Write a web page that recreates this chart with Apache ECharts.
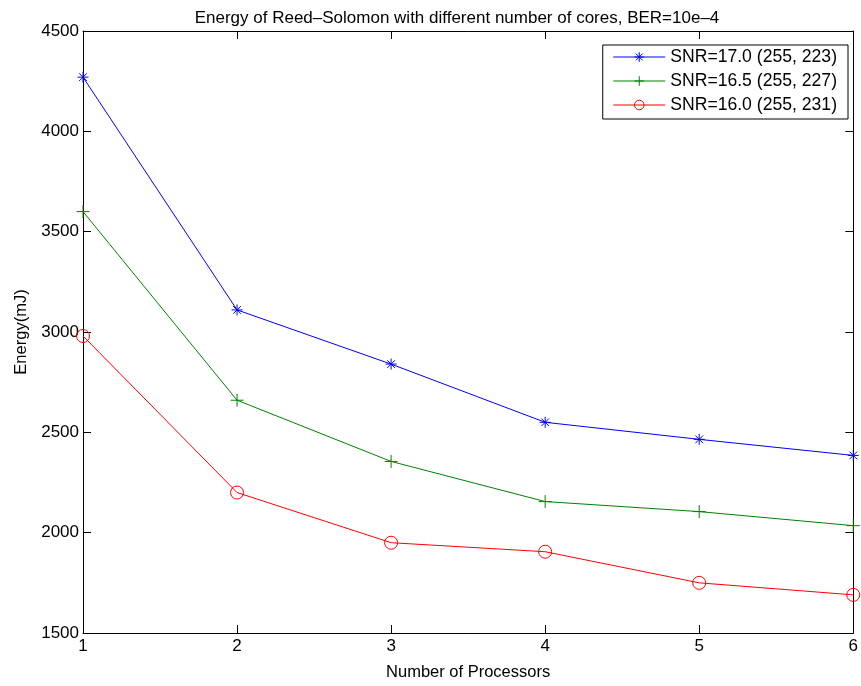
<!DOCTYPE html>
<html>
<head>
<meta charset="utf-8">
<script src="https://cdn.jsdelivr.net/npm/echarts@6/dist/echarts.min.js"></script>
<style>
  html, body { margin: 0; padding: 0; background: #fff; }
  #chart { width: 861px; height: 686px; }
</style>
</head>
<body>
<div id="chart"></div>
<script>
// Processor counts on the x axis
const processors = [1, 2, 3, 4, 5, 6];

// Energy in mJ per configuration
const snr170 = [4270, 3110, 2840, 2550, 2465, 2385];
const snr165 = [3600, 2660, 2355, 2155, 2105, 2035];
const snr160 = [2980, 2200, 1950, 1905, 1750, 1690];

const seriesNames = ['SNR=17.0 (255, 223)', 'SNR=16.5 (255, 227)', 'SNR=16.0 (255, 231)'];

const FONT = 'Liberation Sans, Arial, Helvetica, sans-serif';
// Stroke-only marker outlines
const starPath = 'path://M-1,0L1,0M0,-1L0,1M-0.7,-0.7L0.7,0.7M-0.7,0.7L0.7,-0.7';
const plusPath = 'path://M-1,0L1,0M0,-1L0,1';
const ringPath = 'path://M1,0A1,1,0,1,1,-1,0A1,1,0,1,1,1,0Z';

function pairs(ys) { return processors.map((x, i) => [x, ys[i]]); }

function lineSeries(name, ys, color, symbol, size) {
  return {
    name: name,
    type: 'line',
    data: pairs(ys),
    symbol: symbol,
    symbolSize: size,
    showSymbol: true,
    lineStyle: { color: color, width: 1 },
    itemStyle: { color: 'rgba(0,0,0,0)', borderColor: color, borderWidth: 1 },
    emphasis: { disabled: true },
    animation: false
  };
}

const axisLine = { show: true, onZero: false, lineStyle: { color: '#000', width: 1 } };
const tick = { show: true, inside: true, length: 8, lineStyle: { color: '#000' } };

const chart = echarts.init(document.getElementById('chart'));
chart.setOption({
  backgroundColor: '#fff',
  animation: false,
  title: {
    text: 'Energy of Reed\u2013Solomon with different number of cores, BER=10e\u20134',
    left: 452, textAlign: 'center', top: 5,
    textStyle: { fontFamily: FONT, fontSize: 17, fontWeight: 'normal', color: '#000' }
  },
  legend: {
    orient: 'vertical',
    right: 13, top: 45,
    padding: [3, 11, 5, 10],
    borderColor: '#000', borderWidth: 1,
    backgroundColor: '#fff',
    itemWidth: 52, itemHeight: 12, itemGap: 6, itemTextGap: 8,
    lineStyle: { width: 1 },
    itemStyle: { borderWidth: 1, color: 'rgba(0,0,0,0)' },
    textStyle: { fontFamily: FONT, fontSize: 17.6, color: '#000' },
    data: seriesNames
  },
  grid: { left: 83, right: 7, top: 31, bottom: 49, containLabel: false, show: false },
  xAxis: [{
    type: 'value', min: 1, max: 6, interval: 1,
    name: 'Number of Processors', nameLocation: 'middle', nameGap: 31,
    nameTextStyle: { fontFamily: FONT, fontSize: 16.5, color: '#000' },
    axisLine: axisLine, axisTick: tick,
    axisLabel: { fontFamily: FONT, fontSize: 17, color: '#000', margin: 5 },
    splitLine: { show: false }
  }, {
    type: 'value', min: 1, max: 6, interval: 1, position: 'top',
    axisLine: axisLine, axisTick: tick, axisLabel: { show: false }, splitLine: { show: false }
  }],
  yAxis: [{
    type: 'value', min: 1500, max: 4500, interval: 500,
    name: 'Energy(mJ)', nameLocation: 'middle', nameGap: 52, nameRotate: 90,
    nameTextStyle: { fontFamily: FONT, fontSize: 16.5, color: '#000' },
    axisLine: axisLine, axisTick: tick,
    axisLabel: { fontFamily: FONT, fontSize: 17, color: '#000', margin: 4, formatter: v => String(v) },
    splitLine: { show: false }
  }, {
    type: 'value', min: 1500, max: 4500, interval: 500, position: 'right',
    axisLine: axisLine, axisTick: tick, axisLabel: { show: false }, splitLine: { show: false }
  }],
  series: [
    lineSeries(seriesNames[0], snr170, '#0000ff', starPath, 11),
    lineSeries(seriesNames[1], snr165, '#008000', plusPath, 13),
    lineSeries(seriesNames[2], snr160, '#ff0000', ringPath, 13)
  ]
});
</script>
</body>
</html>
